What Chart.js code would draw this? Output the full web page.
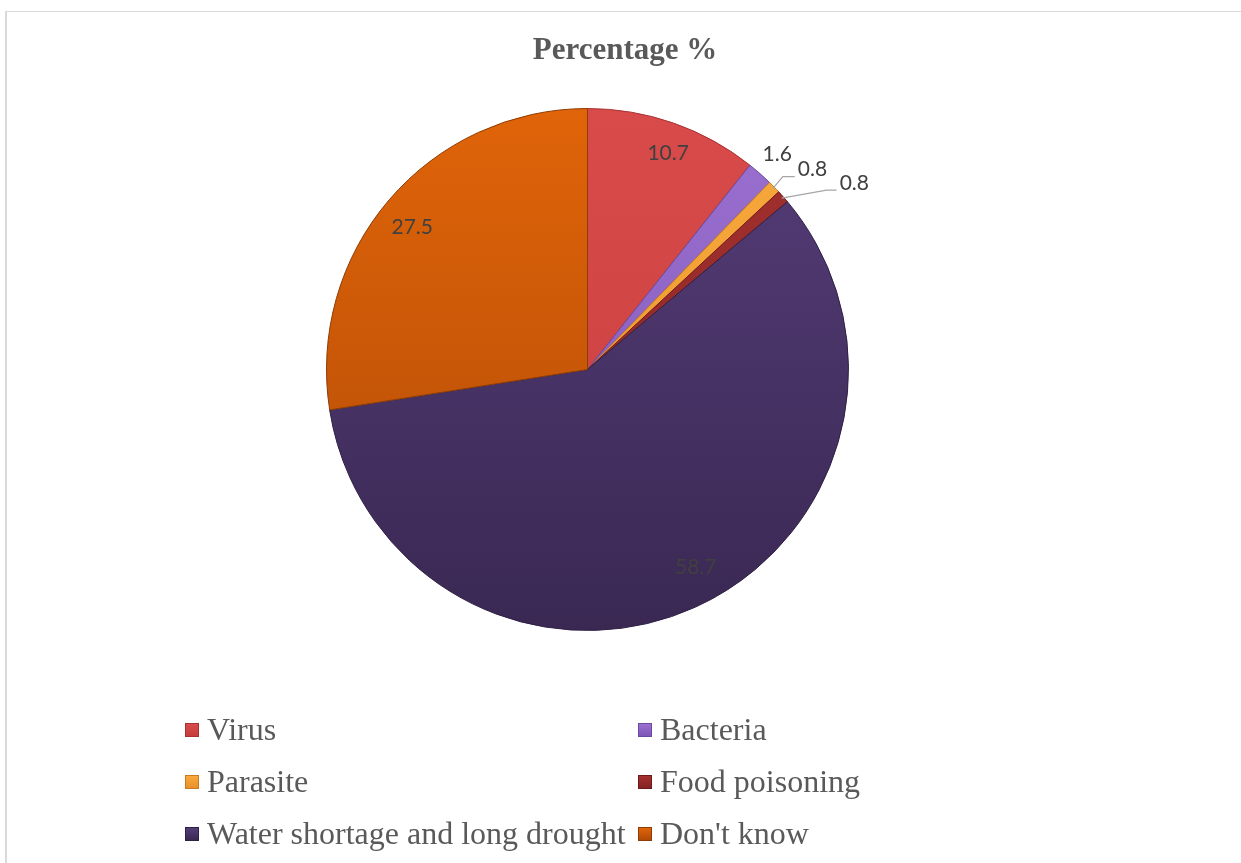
<!DOCTYPE html>
<html>
<head>
<meta charset="utf-8">
<script src="https://cdn.jsdelivr.net/npm/chart.js@4/dist/chart.umd.min.js"></script>
<style>
  html, body { margin: 0; padding: 0; background: #ffffff; overflow: hidden; }
  #wrap { position: relative; width: 1241px; height: 863px; }
  #frame { position: absolute; left: 5px; top: 11px; width: 1300px; height: 900px;
           border-top: 1px solid #d9d9d9; border-left: 2px solid #d9d9d9; box-sizing: border-box; }
  canvas { position: absolute; left: 0; top: 0; }
  .lg { position: absolute; font-family: "Liberation Serif", "Times New Roman", serif;
        font-size: 32px; color: #595959; white-space: nowrap; line-height: 36px; }
  .sw { position: absolute; width: 14px; height: 14px; box-sizing: border-box; }
</style>
</head>
<body>
<div id="wrap">
  <div id="frame"></div>
  <canvas id="c" width="1241" height="863"></canvas>
  <div id="legend"></div>
</div>
<script>
// ---- data ----
const titleText = "Percentage %";
const categories = ["Virus", "Bacteria", "Parasite", "Food poisoning", "Water shortage and long drought", "Don't know"];
const percentages = [10.7, 1.6, 0.8, 0.8, 58.7, 27.5];
const valueLabels = ["10.7", "1.6", "0.8", "0.8", "58.7", "27.5"];

// ---- styles ----
const topColors    = ["#D94B4B", "#9B70D1", "#F8AA3C", "#A3312F", "#553D78", "#E06409"];
const bottomColors = ["#C63D3D", "#7D56B6", "#E8902A", "#862222", "#3A2853", "#B04A06"];
const edgeColors   = ["#A83232", "#6A4A9C", "#C77A20", "#6E1A1A", "#2E2044", "#8E3C05"];

function sliceFill(ctx) {
  const i = ctx.dataIndex;
  const area = ctx.chart.chartArea;
  if (!area) return topColors[i];
  const g = ctx.chart.ctx.createLinearGradient(0, area.top, 0, area.bottom);
  g.addColorStop(0, topColors[i]);
  g.addColorStop(1, bottomColors[i]);
  return g;
}

// label placement style per slice: inside radius factor, or outside with leader
const labelStyle = [
  { mode: "in", r: 0.885, da: 1.2 },
  { mode: "out", r: 1.10, da: 0 },
  { mode: "leader", elbow: [10, -12], run: 12 },
  { mode: "leader", elbow: [45, -8], run: 10 },
  { mode: "in", r: 0.862, da: -4.3 },
  { mode: "in", r: 0.866, da: -1.4 }
];

const labelPlugin = {
  id: "valueLabels",
  afterDatasetsDraw(chart) {
    const ctx = chart.ctx;
    const meta = chart.getDatasetMeta(0);
    ctx.save();
    ctx.font = '21px Lato, "Open Sans", sans-serif';
    ctx.fillStyle = "#404040";
    meta.data.forEach((arc, i) => {
      const p = arc.getProps(["x", "y", "startAngle", "endAngle", "outerRadius"], true);
      const mid = (p.startAngle + p.endAngle) / 2;
      const st = labelStyle[i];
      if (st.mode === "in" || st.mode === "out") {
        const a = mid + st.da * Math.PI / 180;
        const x = p.x + Math.cos(a) * p.outerRadius * st.r;
        const y = p.y + Math.sin(a) * p.outerRadius * st.r;
        ctx.textAlign = "center";
        ctx.textBaseline = "middle";
        ctx.fillText(valueLabels[i], x, y);
      } else {
        const ex = p.x + Math.cos(mid) * (p.outerRadius - 2);
        const ey = p.y + Math.sin(mid) * (p.outerRadius - 2);
        const bx = ex + st.elbow[0], by = ey + st.elbow[1];
        const hx = bx + st.run;
        ctx.strokeStyle = "#A6A6A6";
        ctx.lineWidth = 1.2;
        ctx.beginPath();
        ctx.moveTo(ex, ey);
        ctx.lineTo(bx, by);
        ctx.lineTo(hx, by);
        ctx.stroke();
        ctx.textAlign = "left";
        ctx.textBaseline = "middle";
        ctx.fillText(valueLabels[i], hx + 3, by - 7);
      }
    });
    ctx.restore();
  }
};

const titlePlugin = {
  id: "customTitle",
  afterDraw(chart) {
    const ctx = chart.ctx;
    ctx.save();
    ctx.font = 'bold 31px "Liberation Serif", "Times New Roman", serif';
    ctx.fillStyle = "#595959";
    ctx.textAlign = "center";
    ctx.textBaseline = "alphabetic";
    ctx.fillText(titleText, 625, 59);
    ctx.restore();
  }
};

new Chart(document.getElementById("c"), {
  type: "pie",
  data: {
    labels: categories,
    datasets: [{
      data: percentages,
      backgroundColor: sliceFill,
      borderColor: edgeColors,
      borderWidth: 1
    }]
  },
  options: {
    responsive: false,
    animation: false,
    devicePixelRatio: 1,
    layout: { padding: { top: 108, bottom: 232, left: 0, right: 66 } },
    plugins: {
      legend: { display: false },
      title: { display: false },
      tooltip: { enabled: false }
    }
  },
  plugins: [labelPlugin, titlePlugin]
});

// ---- legend (HTML text) ----
const legendCols = [185, 638];
const legendRows = [711, 763, 815];
const lg = document.getElementById("legend");
categories.forEach((name, i) => {
  const col = i % 2, row = Math.floor(i / 2);
  const sw = document.createElement("div");
  sw.className = "sw";
  sw.style.left = legendCols[col] + "px";
  sw.style.top = (legendRows[row] + 12) + "px";
  sw.style.background = "linear-gradient(" + topColors[i] + "," + bottomColors[i] + ")";
  sw.style.border = "1px solid " + edgeColors[i];
  lg.appendChild(sw);
  const t = document.createElement("div");
  t.className = "lg";
  t.style.left = (legendCols[col] + 22) + "px";
  t.style.top = legendRows[row] + "px";
  t.textContent = name;
  lg.appendChild(t);
});
</script>
</body>
</html>
